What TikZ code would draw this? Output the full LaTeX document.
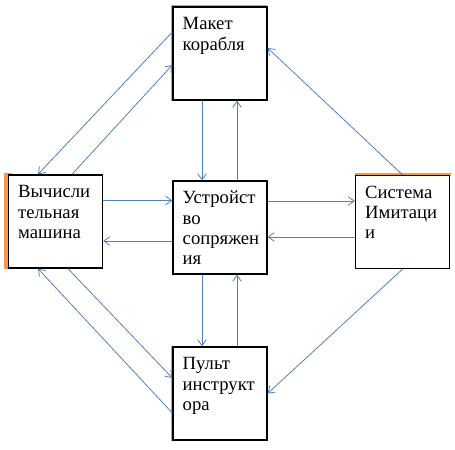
\documentclass[tikz,border=0pt]{standalone}
\usepackage{fontspec}
\setmainfont{Liberation Serif}
\usetikzlibrary{arrows.meta,calc}
\definecolor{lineblue}{RGB}{79,129,189}
\definecolor{edgeorange}{RGB}{247,150,70}
\newcommand{\boxtext}[1]{\parbox[c][69.75pt][t]{70.5pt}{\raggedright\leftskip=7.3pt
  \fontsize{14}{15.2}\selectfont\rule{0pt}{17.2pt}#1}}
\tikzset{
  block/.style={draw=black, line width=1pt, fill=white, inner sep=0pt},
  link/.style={draw=lineblue, line width=0.6pt, -{Straight Barb[length=4.5pt,width=6.5pt]}},
  rim/.style={draw=edgeorange, line width=#1},
}
\begin{document}
\begin{tikzpicture}[x=0.75pt,y=-0.75pt]
\useasboundingbox (0,0) rectangle (455,450);

% orange edges behind the boxes
\draw[rim=1.2pt] (171.5,101) -- (171.5,5.5) -- (267,5.5);
\draw[rim=2.4pt] (6,269) -- (6,174.5) -- (12,174.5);
\draw[rim=2.4pt] (355,174.5) -- (451,174.5);
\draw[rim=1.2pt] (171.5,346) -- (171.5,441);

% boxes
\node[block] (ship)  at (220,53.5)  {\boxtext{Макет\\корабля}};
\node[block] (comp)  at (55.5,221.5) {\boxtext{Вычисли\\тельная\\машина}};
\node[block] (iface) at (220,227.5) {\boxtext{Устройст\\во\\сопряжен\\ия}};
\node[block] (imit)  at (402.5,222) {\boxtext{Система\\Имитаци\\и}};
\node[block] (pult)  at (220,393.5) {\boxtext{Пульт\\инструкт\\ора}};

% vertical links
\draw[link] ($(ship.south)+(-18,0)$) -- ($(iface.north)+(-18,0)$);
\draw[link] ($(iface.north)+(17,0)$) -- ($(ship.south)+(17,0)$);
\draw[link] ($(iface.south)+(-18,0)$) -- ($(pult.north)+(-18,0)$);
\draw[link] ($(pult.north)+(17,0)$) -- ($(iface.south)+(17,0)$);

% horizontal links
\draw[link] ($(comp.east)+(0,-21)$) -- ($(iface.west)+(0,-27)$);
\draw[link] ($(iface.west)+(0,13.5)$) -- ($(comp.east)+(0,19.5)$);
\draw[link] ($(iface.east)+(0,-26.5)$) -- ($(imit.west)+(0,-21)$);
\draw[link] ($(imit.west)+(0,15)$) -- ($(iface.east)+(0,9.5)$);

% diagonal links
\draw[link] ($(ship.west)+(0,-21.5)$) -- ($(comp.north)+(-17.5,0)$);
\draw[link] ($(comp.north)+(16.5,0)$) -- ($(ship.west)+(0,11.5)$);
\draw[link] ($(comp.south)+(12.5,0)$) -- ($(pult.west)+(0,-15.5)$);
\draw[link] ($(pult.west)+(0,19.5)$) -- ($(comp.south)+(-17.5,0)$);
\draw[link] (imit.north) -- ($(ship.east)+(0,-5.5)$);
\draw[link] (imit.south) -- (pult.east);
\end{tikzpicture}
\end{document}
